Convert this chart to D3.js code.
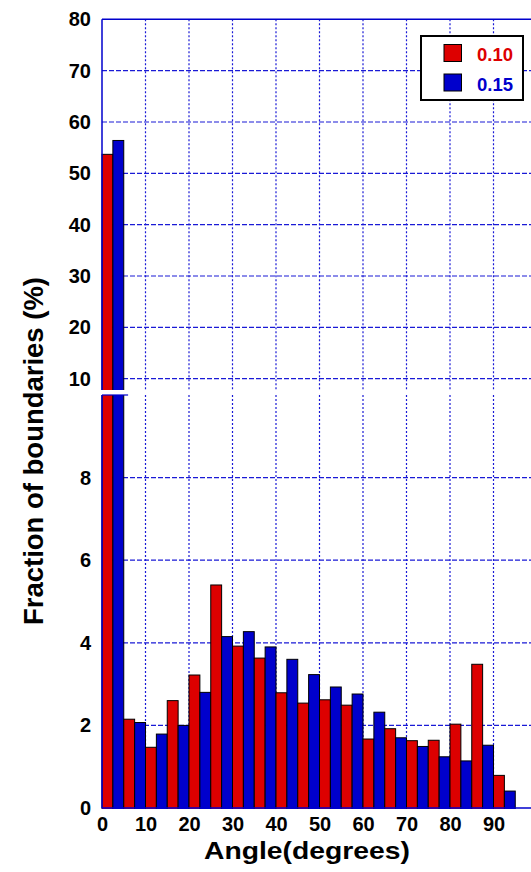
<!DOCTYPE html>
<html>
<head>
<meta charset="utf-8">
<script src="https://cdn.jsdelivr.net/npm/d3@7"></script>
<style>
  body { margin: 0; background: #fff; }
  text { font-family: "Liberation Sans", Arial, sans-serif; font-weight: bold; }
</style>
</head>
<body>
<svg id="chart"></svg>
<script>
// bin start angles (5 degree bins)
const bins = [0, 5, 10, 15, 20, 25, 30, 35, 40, 45, 50, 55, 60, 65, 70, 75, 80, 85, 90]
// fraction of boundaries (%) for the two series
const red10 = [53.7, 2.15, 1.47, 2.60, 3.22, 5.40, 3.92, 3.63, 2.79, 2.54, 2.62, 2.49, 1.67, 1.92, 1.63, 1.64, 2.03, 3.48, 0.79]
const blue15 = [56.4, 2.07, 1.79, 2.00, 2.80, 4.15, 4.27, 3.90, 3.60, 3.23, 2.93, 2.76, 2.32, 1.70, 1.49, 1.24, 1.14, 1.52, 0.41]
const seriesNames = ["0.10", "0.15"]
const xTicks = [0, 10, 20, 30, 40, 50, 60, 70, 80, 90]
const topTicks = [10, 20, 30, 40, 50, 60, 70, 80]
const bottomTicks = [0, 2, 4, 6, 8]

const width = 531
const height = 872
const red = "#dd0000"
const blue = "#0000cc"
const grid = "#1a1ad6"

const svg = d3.select("#chart")
  .attr("width", width)
  .attr("height", height)

const x = d3.scaleLinear().domain([0, 100]).range([102, 537])
// upper panel (broken axis) and lower panel
const yTop = d3.scaleLinear().domain([7.8, 80]).range([390, 19.3])
const yBot = d3.scaleLinear().domain([0, 10]).range([808, 395])

svg.append("clipPath").attr("id", "clipTop")
  .append("rect").attr("x", 0).attr("y", yTop.range()[1]).attr("width", width).attr("height", yTop.range()[0] - yTop.range()[1])
svg.append("clipPath").attr("id", "clipBot")
  .append("rect").attr("x", 0).attr("y", yBot.range()[1]).attr("width", width).attr("height", yBot.range()[0] - yBot.range()[1] + 1)

const bw = 2.5
const rows = bins.map((b, i) => ({ bin: b, vals: [red10[i], blue15[i]] }))

function panel(y, clip, hTicks) {
  const g = svg.append("g")
  const [y0, y1] = y.range()

  // vertical dotted grid
  g.selectAll(".vg")
    .data(xTicks.slice(1).concat([100]))
    .join("line")
    .attr("x1", d => x(d)).attr("x2", d => x(d))
    .attr("y1", y1).attr("y2", y0)
    .attr("stroke", grid).attr("stroke-width", 1.2)
    .attr("stroke-dasharray", "2,2")

  // horizontal dashed grid
  g.selectAll(".hg")
    .data(hTicks)
    .join("line")
    .attr("x1", x(0)).attr("x2", width)
    .attr("y1", d => y(d)).attr("y2", d => y(d))
    .attr("stroke", grid).attr("stroke-width", 1.2)
    .attr("stroke-dasharray", "5,2")

  const bars = g.append("g").attr("clip-path", "url(#" + clip + ")")
  rows.forEach(r => {
    r.vals.forEach((v, k) => {
      const top = Math.max(y(v), y1 - 2)
      bars.append("rect")
        .attr("x", x(r.bin + k * bw))
        .attr("width", x(bw) - x(0))
        .attr("y", top)
        .attr("height", Math.max(0, y0 + 2 - top))
        .attr("fill", k === 0 ? red : blue)
        .attr("stroke", "#000")
        .attr("stroke-width", 1)
    })
  })

  // left axis
  g.append("line")
    .attr("x1", x(0)).attr("x2", x(0))
    .attr("y1", y1).attr("y2", y0)
    .attr("stroke", blue).attr("stroke-width", 1.5)
  return g
}

panel(yTop, "clipTop", [10, 20, 30, 40, 50, 60, 70])
panel(yBot, "clipBot", [2, 4, 6, 8])

// frame top & bottom lines
svg.append("line").attr("x1", x(0)).attr("x2", width)
  .attr("y1", yTop(80)).attr("y2", yTop(80))
  .attr("stroke", blue).attr("stroke-width", 1.5)
svg.append("line").attr("x1", x(0)).attr("x2", width)
  .attr("y1", yBot(0)).attr("y2", yBot(0))
  .attr("stroke", blue).attr("stroke-width", 1.5)
// break mark
svg.append("line").attr("x1", x(0)).attr("x2", x(6))
  .attr("y1", yBot(10)).attr("y2", yBot(10))
  .attr("stroke", blue).attr("stroke-width", 1.2)

// tick labels through axes
const axTop = svg.append("g").attr("transform", `translate(${x(0)},0)`)
  .call(d3.axisLeft(yTop).tickValues(topTicks).tickSize(0).tickPadding(11))
const axBot = svg.append("g").attr("transform", `translate(${x(0)},0)`)
  .call(d3.axisLeft(yBot).tickValues(bottomTicks).tickSize(0).tickPadding(11))
const axX = svg.append("g").attr("transform", `translate(0,${yBot(0)})`)
  .call(d3.axisBottom(x).tickValues(xTicks).tickSize(0).tickPadding(9))

;[axTop, axBot, axX].forEach(a => {
  a.select(".domain").remove()
  a.selectAll("text")
    .attr("fill", "#000")
    .style("font-size", "20px")
    .style("font-family", "'Liberation Sans', Arial, sans-serif")
    .style("font-weight", "bold")
})

// axis titles
svg.append("text")
  .attr("x", 307).attr("y", 859)
  .attr("text-anchor", "middle")
  .attr("textLength", 206)
  .attr("lengthAdjust", "spacingAndGlyphs")
  .style("font-size", "24px")
  .text("Angle(degrees)")

svg.append("text")
  .attr("transform", "translate(43,451) rotate(-90)")
  .attr("text-anchor", "middle")
  .attr("textLength", 348)
  .attr("lengthAdjust", "spacingAndGlyphs")
  .style("font-size", "28.5px")
  .text("Fraction of boundaries (%)")

// legend
const lg = svg.append("g")
lg.append("rect")
  .attr("x", 421).attr("y", 36).attr("width", 102).attr("height", 64)
  .attr("fill", "#fff").attr("stroke", "#000").attr("stroke-width", 2)
seriesNames.forEach((name, i) => {
  const c = i === 0 ? red : blue
  lg.append("rect")
    .attr("x", 444).attr("y", 44.5 + i * 29.5).attr("width", 17.5).attr("height", 17)
    .attr("fill", c).attr("stroke", "#000").attr("stroke-width", 1)
  lg.append("text")
    .attr("x", 477).attr("y", 61 + i * 29.5)
    .attr("fill", c)
    .style("font-size", "18.5px")
    .text(name)
})
</script>
</body>
</html>
